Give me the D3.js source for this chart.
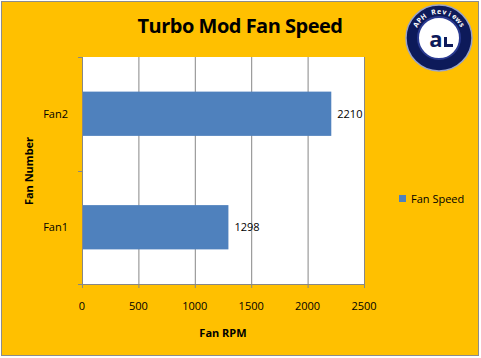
<!DOCTYPE html>
<html><head><meta charset="utf-8">
<script src="https://cdn.jsdelivr.net/npm/d3@7"></script>
<style>body{margin:0;background:#fff}svg{display:block}text{font-family:"Open Sans",sans-serif}</style>
</head><body><svg id="c" width="481" height="358"></svg>
<script>
const categories = ["Fan1", "Fan2"];
const values = [1298, 2210];
const xTicks = [0, 500, 1000, 1500, 2000, 2500];
const seriesName = "Fan Speed";

const svg = d3.select("#c");
svg.append("rect").attr("x",1.5).attr("y",1.5).attr("width",477).attr("height",354)
  .attr("fill","#FFC000").attr("stroke","#8c8c8c").attr("stroke-width",1);

const L=82, R=364, T=57, B=284;
const x = d3.scaleLinear().domain([0,2500]).range([L,R]);
const y = d3.scaleBand().domain(categories.slice().reverse()).range([T,B]).paddingInner(0.61).paddingOuter(0.305);
const yb = d3.scaleBand().domain(categories.slice().reverse()).range([T,B]);

svg.append("rect").attr("x",L).attr("y",T).attr("width",R-L).attr("height",B-T).attr("fill","#fff");
svg.append("g").selectAll("line").data(xTicks).join("line")
  .attr("x1",d=>x(d)+0.5).attr("x2",d=>x(d)+0.5).attr("y1",T).attr("y2",B+4)
  .attr("stroke","#878787").attr("stroke-width",1);
svg.append("line").attr("x1",L-4).attr("x2",R+0.5).attr("y1",B+0.5).attr("y2",B+0.5).attr("stroke","#878787");
svg.append("line").attr("x1",L+0.5).attr("x2",L+0.5).attr("y1",T).attr("y2",B).attr("stroke","#878787");
const yt=[T, yb("Fan1"), B];
svg.append("g").selectAll("line").data(yt).join("line")
  .attr("x1",L-4).attr("x2",L).attr("y1",d=>Math.round(d)+0.5).attr("y2",d=>Math.round(d)+0.5).attr("stroke","#878787");

svg.append("g").selectAll("rect").data(categories).join("rect")
  .attr("x",L+1).attr("y",d=>y(d)).attr("width",(d,i)=>x(values[i])-L-1).attr("height",y.bandwidth())
  .attr("fill","#4F81BD");
svg.append("g").selectAll("text").data(categories).join("text")
  .attr("x",(d,i)=>x(values[i])+6).attr("y",d=>y(d)+y.bandwidth()/2).attr("dy","0.35em")
  .attr("font-size",11).attr("fill","#000").text((d,i)=>values[i]);
svg.append("g").selectAll("text").data(categories).join("text")
  .attr("x",68).attr("y",d=>yb(d)+yb.bandwidth()/2).attr("dy","0.35em").attr("text-anchor","end")
  .attr("font-size",11).text(d=>d);
svg.append("g").selectAll("text").data(xTicks).join("text")
  .attr("x",d=>x(d)).attr("y",310).attr("text-anchor","middle").attr("font-size",11).text(d=>d);
svg.append("text").attr("x",223).attr("y",337).attr("text-anchor","middle").attr("font-size",11).attr("font-weight","bold").text("Fan RPM");
svg.append("text").attr("transform","translate(33,171) rotate(-90)").attr("text-anchor","middle").attr("font-size",11).attr("font-weight","bold").text("Fan Number");
svg.append("text").attr("x",240).attr("y",33).attr("text-anchor","middle").attr("font-size",20).attr("font-weight","bold").attr("letter-spacing","-0.5").text("Turbo Mod Fan Speed");
svg.append("rect").attr("x",399).attr("y",195).attr("width",7).attr("height",7).attr("fill","#4F81BD");
svg.append("text").attr("x",411).attr("y",199).attr("dy","0.35em").attr("font-size",11).text(seriesName);

// logo
const lg = svg.append("g").attr("transform","translate(439,38)");
lg.append("circle").attr("r",33).attr("fill","#0d1a5a").attr("stroke","#9aa3c8").attr("stroke-width",1.5);
lg.append("circle").attr("r",21).attr("fill","#fff").attr("stroke","#2a3a90").attr("stroke-width",2);
const logoText = "APH Reviews".split("");
const step = 12;
logoText.forEach((ch,i)=>{
  const ang = (i-(logoText.length-1)/2)*step;
  lg.append("text").attr("transform",`rotate(${ang}) translate(0,-24)`)
    .attr("text-anchor","middle").attr("font-size",7).attr("font-weight","bold").attr("fill","#fff").text(ch);
});
lg.append("text").attr("x",-3).attr("y",9).attr("text-anchor","middle").attr("font-size",22).attr("font-weight","bold").attr("fill","#0d1a5a").text("a");
lg.append("rect").attr("x",5).attr("y",-1).attr("width",3).attr("height",10).attr("fill","#0d1a5a");
lg.append("rect").attr("x",5).attr("y",6).attr("width",9).attr("height",3).attr("fill","#0d1a5a");
</script></body></html>
